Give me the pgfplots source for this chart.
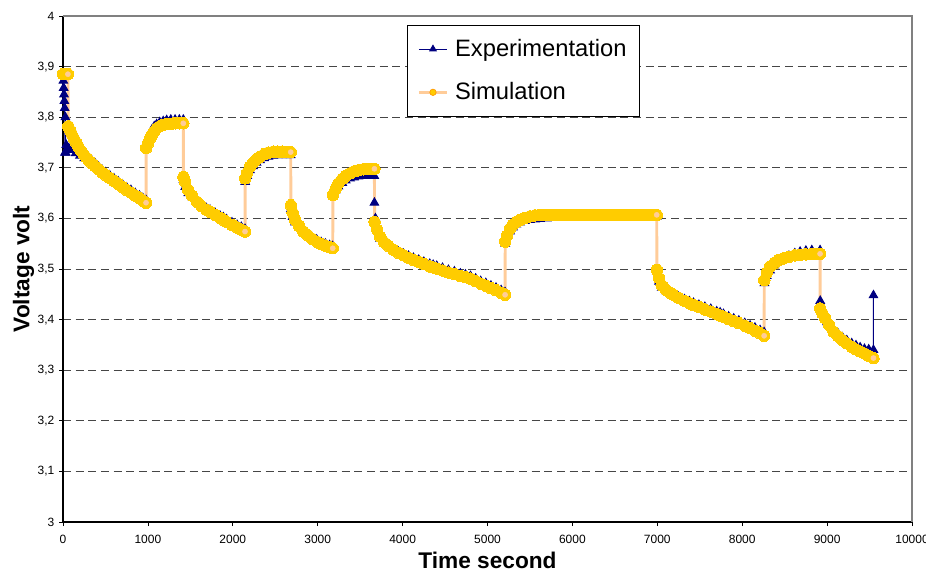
\documentclass[border=0pt]{standalone}
\usepackage{pgfplots}
\pgfplotsset{compat=1.18}
\usepackage{fontspec}
\setmainfont{Liberation Sans}
\definecolor{navyc}{RGB}{0,0,128}
\definecolor{simy}{RGB}{255,204,0}
\definecolor{peach}{RGB}{255,204,153}
\definecolor{gridc}{RGB}{70,70,70}
\begin{document}
\begin{tikzpicture}
\begin{axis}[
  name=ax,
  scale only axis, width=636.75pt, height=379.5pt,
  xmin=0, xmax=10000, ymin=3, ymax=4,
  clip=false,
  scaled x ticks=false, scaled y ticks=false,
  axis x line*=bottom, axis y line*=left,
  axis line style={black, line width=0.8pt, -},
  xtick={0,1000,2000,3000,4000,5000,6000,7000,8000,9000,10000},
  xticklabels={0,1000,2000,3000,4000,5000,6000,7000,8000,9000,10000},
  ytick={3,3.1,3.2,3.3,3.4,3.5,3.6,3.7,3.8,3.9,4},
  yticklabels={3,{3,1},{3,2},{3,3},{3,4},{3,5},{3,6},{3,7},{3,8},{3,9},4},
  tick align=outside, major tick length=3pt,
  tick style={black, line width=0.6pt},
  tick label style={font=\fontsize{9}{10}\selectfont},
  xticklabel style={yshift=-3.5pt},
  ymajorgrids,
  grid style={gridc, dash pattern=on 6pt off 3.5pt, line width=0.75pt},
  xlabel={\bfseries Time second},
  ylabel={\bfseries Voltage volt},
  xlabel style={at={(rel axis cs:0.5,-0.0751)}, anchor=center, font=\fontsize{17}{20}\selectfont},
  ylabel style={at={(rel axis cs:-0.0465,0.5)}, anchor=center, font=\fontsize{17}{20}\selectfont},
  legend style={at={(rel axis cs:0.405,0.982)}, anchor=north west, draw=black, line width=0.6pt,
    font=\fontsize{17.8}{20}\selectfont, inner xsep=7.5pt, inner ysep=8.5pt, row sep=14pt,
    cells={anchor=west}},
  legend cell align=left,
]
\draw[gray, line width=0.8pt] (rel axis cs:0,1) -- (rel axis cs:1,1) -- (rel axis cs:1,0);

\addplot[navyc, line width=0.75pt, mark=triangle*, mark size=3.6pt, mark options={solid, fill=navyc, draw=navyc},
  legend image code/.code={\draw[navyc, line width=0.8pt] (0pt,0pt) -- (21pt,0pt);
    \fill[navyc] (10.5pt,0pt) +(90:2.8pt) -- +(210:2.8pt) -- +(330:2.8pt) -- cycle;
    \path (24pt,0pt);}]
coordinates {
(0,3.885)(4,3.872)(8,3.858)(12,3.845)(16,3.832)(20,3.818)(24,3.73)(28,3.80)(32,3.73)(38,3.745)(45,3.735)(55,3.74)(70,3.738)(100,3.735)(150,3.729)(200,3.724)(250,3.719)(300,3.716)(340,3.714)(380,3.708)(420,3.702)(460,3.696)(500,3.691)(550,3.685)(600,3.679)(650,3.673)(700,3.667)(750,3.661)(800,3.656)(850,3.650)(900,3.645)(940,3.640)(978,3.636)
(980,3.745)(1000,3.758)(1025,3.768)(1050,3.776)(1075,3.782)(1103,3.786)(1140,3.790)(1180,3.792)(1221,3.794)(1270,3.795)(1320,3.795)(1370,3.795)(1417,3.795)
(1419,3.676)(1440,3.662)(1476,3.650)(1520,3.642)(1575,3.634)(1630,3.627)(1690,3.620)(1732,3.617)(1790,3.611)(1850,3.605)(1890,3.602)(1928,3.598)(1990,3.592)(2050,3.587)(2100,3.583)(2144,3.579)
(2146,3.672)(2170,3.684)(2203,3.695)(2240,3.703)(2280,3.710)(2321,3.715)(2370,3.719)(2420,3.722)(2478,3.724)(2530,3.725)(2580,3.725)(2630,3.725)(2682,3.725)
(2684,3.618)(2705,3.603)(2733,3.592)(2780,3.583)(2831,3.575)(2880,3.569)(2930,3.563)(2988,3.558)(3040,3.553)(3090,3.550)(3140,3.547)(3177,3.545)
(3179,3.645)(3210,3.655)(3244,3.663)(3290,3.670)(3330,3.675)(3381,3.679)(3430,3.681)(3480,3.683)(3538,3.684)(3590,3.684)(3630,3.684)(3666,3.684)
(3668,3.631)(3680,3.600)(3700,3.577)(3734,3.560)(3780,3.550)(3830,3.544)(3891,3.539)(3950,3.534)(4010,3.530)(4070,3.526)(4127,3.522)(4190,3.518)(4250,3.514)(4320,3.510)(4360,3.508)(4402,3.506)(4470,3.502)(4540,3.498)(4610,3.495)(4680,3.491)(4740,3.489)(4800,3.486)(4860,3.481)(4920,3.476)(4980,3.472)(5040,3.467)(5100,3.463)(5160,3.458)(5207,3.454)
(5209,3.550)(5240,3.566)(5266,3.574)(5300,3.582)(5340,3.588)(5384,3.592)(5440,3.595)(5500,3.597)(5560,3.598)(5620,3.599)(5700,3.600)(5800,3.601)(5900,3.601)(6000,3.602)(6100,3.602)(6200,3.602)(6300,3.602)(6400,3.603)(6500,3.603)(6600,3.603)(6700,3.603)(6800,3.603)(6900,3.603)(6991,3.603)
(6995,3.495)(7020,3.475)(7052,3.463)(7100,3.456)(7150,3.452)(7190,3.449)(7250,3.445)(7320,3.440)(7380,3.436)(7426,3.433)(7490,3.429)(7560,3.425)(7630,3.421)(7700,3.416)(7740,3.414)(7779,3.411)(7840,3.406)(7900,3.402)(7960,3.398)(8030,3.393)(8093,3.388)(8150,3.384)(8210,3.379)(8258,3.375)
(8262,3.472)(8290,3.486)(8329,3.497)(8380,3.507)(8430,3.514)(8486,3.520)(8550,3.526)(8620,3.531)(8682,3.534)(8750,3.536)(8820,3.537)(8917,3.537)
(8919,3.437)(8935,3.418)(8960,3.406)(9000,3.395)(9040,3.386)(9075,3.380)(9130,3.372)(9180,3.365)(9232,3.359)(9290,3.353)(9340,3.349)(9389,3.345)(9440,3.342)(9490,3.341)(9546,3.340)(9546,3.448)
};
\addlegendentry{Experimentation}

\addplot[peach, line width=2.2pt, mark=*, mark size=4.3pt, mark options={solid, fill=simy, draw=simy, line width=0pt},
  legend image code/.code={\draw[peach, line width=2.6pt] (0pt,0pt) -- (21pt,0pt);
    \filldraw[fill=simy, draw=orange!80!yellow, line width=0.5pt] (10.5pt,0pt) circle (2.4pt);
    \path (24pt,0pt);}]
coordinates {
(0,3.885)(30,3.885)(58,3.885)
(62,3.782)(80,3.775)(100,3.768)(125,3.759)(150,3.751)(180,3.742)(210,3.734)(240,3.727)(270,3.721)(300,3.715)(340,3.709)(380,3.703)(420,3.697)(460,3.691)(500,3.686)(550,3.680)(600,3.674)(650,3.668)(700,3.662)(750,3.656)(800,3.651)(850,3.645)(900,3.640)(940,3.635)(978,3.631)
(980,3.739)(1000,3.748)(1025,3.758)(1050,3.765)(1075,3.772)(1103,3.778)(1140,3.782)(1180,3.785)(1221,3.787)(1270,3.787)(1320,3.788)(1370,3.788)(1417,3.788)
(1419,3.682)(1440,3.672)(1476,3.656)(1520,3.645)(1575,3.633)(1630,3.624)(1690,3.617)(1732,3.613)(1790,3.607)(1850,3.601)(1890,3.597)(1928,3.593)(1990,3.587)(2050,3.582)(2100,3.578)(2144,3.574)
(2146,3.679)(2170,3.690)(2203,3.702)(2240,3.710)(2280,3.717)(2321,3.722)(2370,3.727)(2420,3.730)(2478,3.732)(2530,3.732)(2580,3.732)(2630,3.731)(2682,3.731)
(2684,3.626)(2705,3.611)(2733,3.597)(2780,3.585)(2831,3.574)(2880,3.567)(2930,3.560)(2988,3.554)(3040,3.549)(3090,3.546)(3140,3.543)(3177,3.541)
(3179,3.646)(3210,3.658)(3244,3.669)(3290,3.678)(3330,3.684)(3381,3.689)(3430,3.693)(3480,3.695)(3538,3.697)(3590,3.698)(3630,3.698)(3668,3.698)
(3670,3.593)(3700,3.578)(3734,3.564)(3780,3.553)(3830,3.546)(3891,3.538)(3950,3.532)(4010,3.527)(4070,3.522)(4127,3.518)(4190,3.514)(4250,3.510)(4320,3.505)(4360,3.503)(4402,3.501)(4470,3.497)(4540,3.493)(4610,3.490)(4680,3.486)(4740,3.484)(4800,3.481)(4860,3.476)(4920,3.471)(4980,3.467)(5040,3.462)(5100,3.458)(5160,3.453)(5207,3.449)
(5209,3.554)(5230,3.566)(5266,3.580)(5300,3.588)(5340,3.593)(5384,3.597)(5440,3.601)(5500,3.604)(5560,3.606)(5620,3.607)(5680,3.607)(5740,3.607)(5800,3.607)(5860,3.607)(5920,3.607)(5980,3.607)(6040,3.607)(6100,3.607)(6160,3.607)(6220,3.607)(6280,3.607)(6340,3.607)(6400,3.607)(6460,3.607)(6520,3.607)(6580,3.607)(6640,3.607)(6700,3.607)(6760,3.607)(6820,3.607)(6880,3.607)(6940,3.607)(6993,3.607)
(6995,3.498)(7020,3.482)(7052,3.468)(7100,3.459)(7150,3.453)(7190,3.449)(7250,3.443)(7320,3.437)(7380,3.432)(7426,3.429)(7490,3.425)(7560,3.420)(7630,3.416)(7700,3.411)(7740,3.408)(7779,3.406)(7840,3.401)(7900,3.397)(7960,3.393)(8030,3.388)(8093,3.383)(8150,3.378)(8210,3.373)(8258,3.368)
(8260,3.478)(8290,3.493)(8329,3.505)(8380,3.512)(8430,3.518)(8486,3.521)(8550,3.524)(8620,3.527)(8682,3.528)(8750,3.529)(8820,3.530)(8870,3.530)(8917,3.530)
(8919,3.422)(8945,3.412)(8976,3.403)(9020,3.390)(9075,3.376)(9130,3.367)(9180,3.359)(9232,3.353)(9290,3.346)(9340,3.341)(9389,3.337)(9440,3.333)(9490,3.328)(9546,3.324)
};
\addlegendentry{Simulation}

\addplot[only marks, mark=*, mark size=1.9pt, mark options={fill=peach, draw=peach}, forget plot]
coordinates {(58,3.885)(978,3.631)(1417,3.788)(2144,3.574)(2682,3.731)(3177,3.541)(3668,3.698)(5207,3.449)(6993,3.607)(8258,3.368)(8917,3.530)(9546,3.324)};
\end{axis}
\pgfresetboundingbox
\path ([xshift=-47.25pt,yshift=-37.5pt]ax.south west) rectangle ([xshift=10.5pt,yshift=12pt]ax.north east);
\end{tikzpicture}
\end{document}
